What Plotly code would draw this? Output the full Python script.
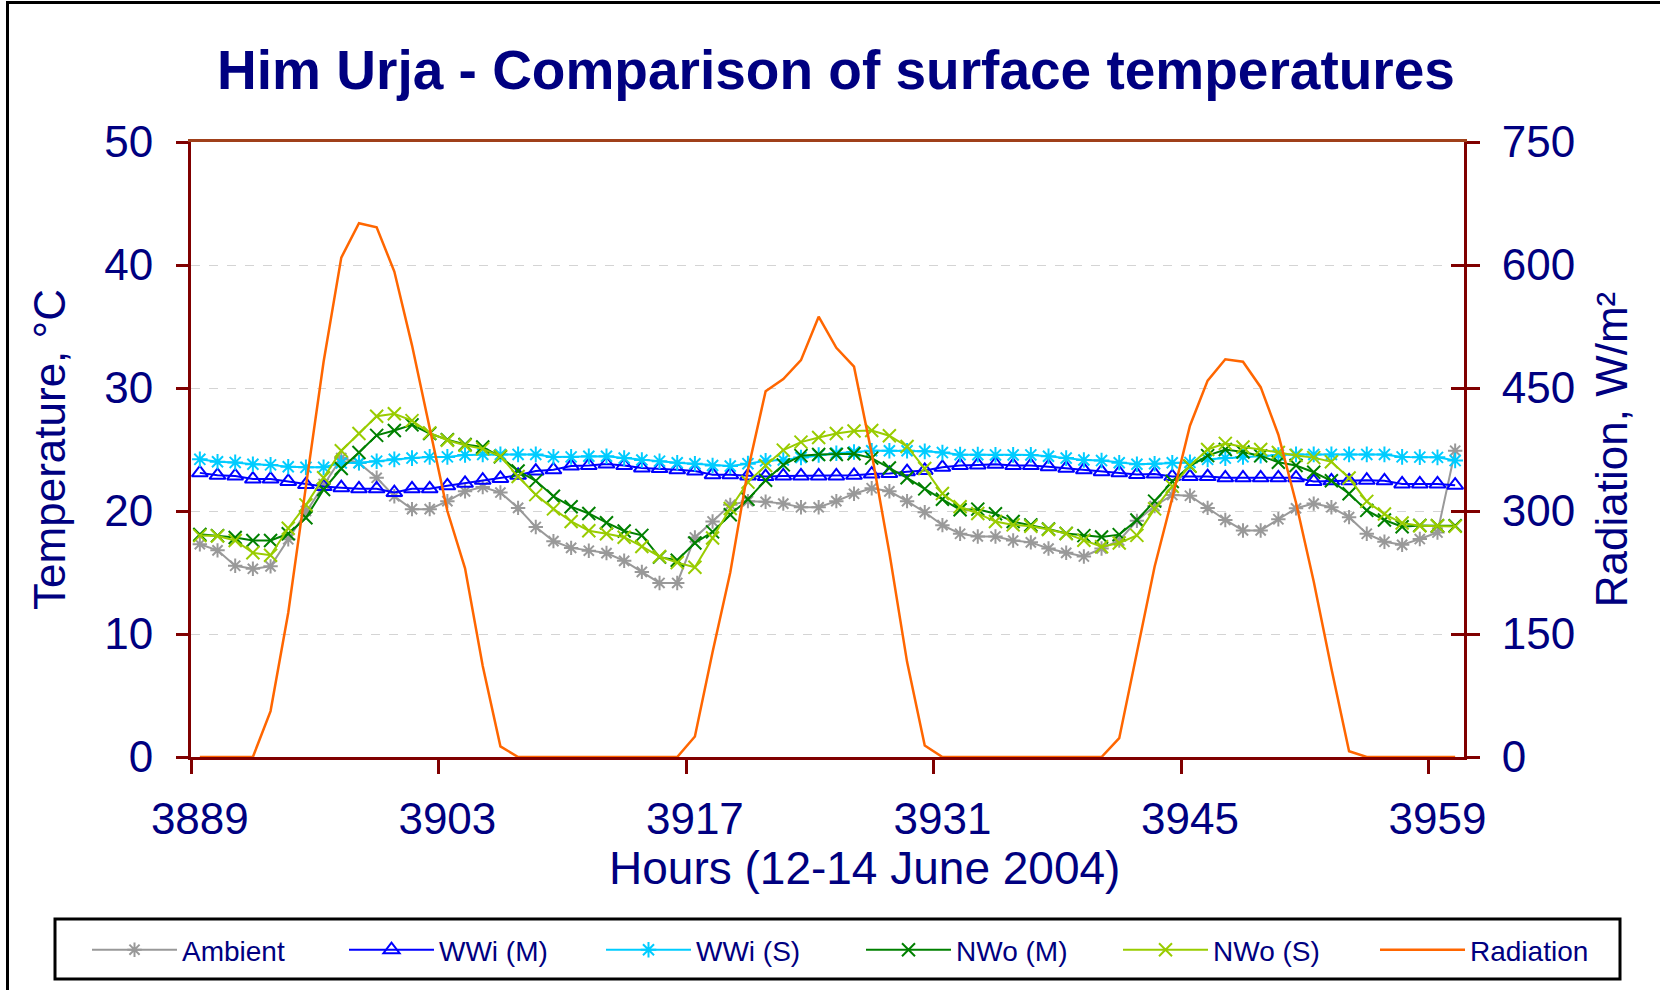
import plotly.graph_objects as go

hours = list(range(3889, 3961))

ambient = [17.3, 16.8, 15.55, 15.3, 15.5, 17.7, 20.0, 22.2, 24.3, 23.9,
           22.7, 21.2, 20.15, 20.15, 20.8, 21.6, 21.95, 21.5, 20.25, 18.7,
           17.55, 17.0, 16.77, 16.58, 15.95, 15.05, 14.15, 14.15, 17.85, 19.15,
           20.5, 20.8, 20.75, 20.6, 20.3, 20.3, 20.8, 21.4, 21.85, 21.6,
           20.8, 19.9, 18.85, 18.15, 17.93, 17.93, 17.6, 17.45, 16.95, 16.6,
           16.3, 16.95, 17.6, 19.2, 20.4, 21.3, 21.24, 20.25, 19.27, 18.42,
           18.42, 19.33, 20.22, 20.6, 20.3, 19.5, 18.15, 17.5, 17.25, 17.72,
           18.25, 24.9]

wwi_m = [23.1, 22.9, 22.85, 22.6, 22.6, 22.4, 22.15, 22.0, 21.9, 21.8,
         21.8, 21.5, 21.8, 21.8, 22.05, 22.25, 22.5, 22.65, 22.9, 23.25,
         23.35, 23.65, 23.7, 23.82, 23.7, 23.5, 23.45, 23.35, 23.25, 22.95,
         22.95, 22.85, 22.8, 22.85, 22.85, 22.85, 22.85, 22.9, 23.0, 23.05,
         23.2, 23.3, 23.55, 23.7, 23.75, 23.8, 23.7, 23.7, 23.6, 23.48,
         23.35, 23.2, 23.1, 22.96, 23.0, 22.8, 22.8, 22.8, 22.7, 22.7,
         22.7, 22.7, 22.7, 22.4, 22.45, 22.45, 22.5, 22.45, 22.2, 22.2,
         22.2, 22.1]

wwi_s = [24.2, 24.0, 23.95, 23.8, 23.75, 23.6, 23.55, 23.55, 23.9, 23.92,
         24.05, 24.2, 24.3, 24.4, 24.4, 24.55, 24.6, 24.6, 24.6, 24.6,
         24.4, 24.4, 24.45, 24.45, 24.3, 24.15, 24.05, 23.92, 23.84, 23.7,
         23.65, 23.85, 24.08, 24.15, 24.35, 24.55, 24.7, 24.8, 24.9, 24.9,
         24.9, 24.85, 24.75, 24.58, 24.58, 24.56, 24.56, 24.56, 24.45, 24.3,
         24.15, 24.1, 23.92, 23.8, 23.84, 23.92, 23.95, 24.2, 24.3, 24.4,
         24.5, 24.55, 24.6, 24.6, 24.6, 24.6, 24.6, 24.6, 24.4, 24.38,
         24.36, 24.1]

nwo_m = [18.1, 18.0, 17.85, 17.6, 17.6, 18.15, 19.45, 21.75, 23.45, 24.75,
         26.15, 26.55, 27.0, 26.3, 25.8, 25.4, 25.2, 24.4, 23.25, 22.45,
         21.2, 20.35, 19.8, 19.05, 18.38, 18.02, 16.25, 16.0, 17.4, 18.3,
         19.7, 20.95, 22.5, 23.75, 24.5, 24.6, 24.6, 24.65, 24.3, 23.5,
         22.7, 21.8, 20.95, 20.1, 20.15, 19.78, 19.14, 18.87, 18.54, 18.18,
         18.0, 17.88, 18.08, 19.27, 20.8, 22.4, 23.65, 24.5, 25.0, 24.8,
         24.48, 23.96, 23.7, 23.15, 22.46, 21.4, 20.05, 19.27, 18.72, 18.83,
         18.8, 18.8]

nwo_s = [18.0, 17.97, 17.6, 16.6, 16.4, 18.6, 20.5, 22.7, 24.9, 26.3,
         27.7, 27.9, 27.35, 26.35, 25.75, 25.35, 25.05, 24.45, 22.8, 21.33,
         20.17, 19.15, 18.4, 18.15, 17.87, 17.12, 16.3, 15.8, 15.42, 17.8,
         20.2, 22.35, 23.7, 24.95, 25.6, 25.97, 26.3, 26.5, 26.55, 26.12,
         25.25, 23.45, 21.42, 20.35, 19.8, 19.14, 18.87, 18.76, 18.5, 18.16,
         17.62, 17.1, 17.4, 18.02, 20.17, 22.0, 23.67, 25.0, 25.5, 25.2,
         25.0, 24.75, 24.52, 24.34, 24.0, 22.68, 20.78, 19.75, 19.02, 18.8,
         18.8, 18.75]

radiation = [0, 0, 0, 0, 56, 176, 330, 482, 609, 651,
             646, 592, 502, 402, 300, 230, 111, 13, 0, 0,
             0, 0, 0, 0, 0, 0, 0, 0, 25, 128,
             225, 350, 446, 461, 484, 537, 499, 476, 370, 249,
             116, 14, 0, 0, 0, 0, 0, 0, 0, 0,
             0, 0, 23, 128, 232, 316, 404, 459, 485, 482,
             451, 393, 310, 214, 108, 7, 0, 0, 0, 0,
             0, 0]

tick_labels = ["3889", "3903", "3917", "3931", "3945", "3959"]
label_pos = [int(t) for t in tick_labels]
tick_marks = [v - 0.5 for v in label_pos]

NAVY = "#000080"
AXIS = "#800000"
FONT = "Liberation Sans"

W, H = 1660, 990
L, R, T, B = 191, 196, 142, 233
pw = W - L - R
ph = H - T - B

fig = go.Figure()

series = [
    ("Ambient", ambient, "#999999", "asterisk-open", 12, "legend"),
    ("WWi (M)", wwi_m, "#0000FF", "triangle-up-open", 14, "legend"),
    ("WWi (S)", wwi_s, "#00CCFF", "asterisk-open", 13, "legend"),
    ("NWo (M)", nwo_m, "#008000", "x-thin-open", 13, "legend2"),
    ("NWo (S)", nwo_s, "#99CC00", "x-thin-open", 13, "legend2"),
]
for name, vals, col, sym, sz, lg in series:
    fig.add_trace(go.Scatter(
        x=hours, y=vals, name=name, mode="lines+markers",
        line=dict(color=col, width=2),
        marker=dict(symbol=sym, size=sz, color=col, line=dict(color=col, width=2)),
        xaxis="x", yaxis="y", legend=lg))

fig.add_trace(go.Scatter(
    x=hours, y=radiation, name="Radiation", mode="lines",
    line=dict(color="#FF6600", width=2.5), xaxis="x2", yaxis="y2",
    legend="legend2"))

# helper trace for the decorative top border / crossing right ticks
fig.add_trace(go.Scatter(x=[None], y=[None], xaxis="x3", yaxis="y3",
                         showlegend=False, hoverinfo="skip"))

xr = [hours[0] - 0.5, hours[-1] + 0.5]

ENTRY = 258
LEG_X = 87
legend_common = dict(orientation="h", xref="container", yref="container",
                     xanchor="left", y=1 - 950 / H, yanchor="middle",
                     entrywidth=ENTRY - 85 - 16, entrywidthmode="pixels",
                     font=dict(family=FONT, size=28, color=NAVY),
                     borderwidth=0, bgcolor="rgba(0,0,0,0)", itemwidth=85)

fig.update_layout(
    width=W, height=H, autosize=False,
    margin=dict(l=L, r=R, t=T, b=B, autoexpand=False),
    paper_bgcolor="white", plot_bgcolor="white",
    font=dict(family=FONT, color=NAVY),
    title=dict(text="Him Urja - Comparison of surface temperatures",
               font=dict(family=FONT, size=55, color=NAVY, weight="bold"),
               x=836 / W, xref="container", xanchor="center",
               y=1 - 70 / H, yref="container", yanchor="middle",
               automargin=False),
    xaxis=dict(range=xr, tickvals=tick_marks, showticklabels=False,
               ticks="outside", ticklen=14, tickwidth=3, tickcolor=AXIS,
               showline=True, linecolor=AXIS, linewidth=3,
               showgrid=False, zeroline=False, automargin=False),
    xaxis2=dict(range=xr, overlaying="x", side="bottom", anchor="y2",
                tickvals=label_pos, ticktext=tick_labels, ticks="",
                showline=False, showgrid=False, zeroline=False,
                tickfont=dict(family=FONT, size=44, color=NAVY),
                ticklabelstandoff=32, automargin=False),
    xaxis3=dict(range=xr, overlaying="x", side="top", anchor="y3",
                showticklabels=False, ticks="", showline=True,
                linecolor="#A0401A", linewidth=3, showgrid=False, zeroline=False,
                automargin=False),
    yaxis=dict(range=[0, 50], tickvals=[0, 10, 20, 30, 40, 50],
               ticks="outside", ticklen=12, tickwidth=3, tickcolor=AXIS,
               showline=True, linecolor=AXIS, linewidth=3,
               showgrid=True, gridcolor="#D4D4D4", gridwidth=1, griddash="dash",
               zeroline=False, automargin=False,
               tickfont=dict(family=FONT, size=44, color=NAVY),
               ticklabelstandoff=14,
               title=dict(text="Temperature, °C",
                          font=dict(family=FONT, size=44, color=NAVY),
                          standoff=25)),
    yaxis2=dict(range=[0, 750], tickvals=[0, 150, 300, 450, 600, 750],
                overlaying="y", side="right", anchor="x2",
                ticks="outside", ticklen=13, tickwidth=3, tickcolor=AXIS,
                showline=True, linecolor=AXIS, linewidth=3,
                showgrid=False, zeroline=False, automargin=False,
                tickfont=dict(family=FONT, size=44, color=NAVY),
                ticklabelstandoff=13,
                title=dict(text="Radiation, W/m²",
                           font=dict(family=FONT, size=44, color=NAVY),
                           standoff=22)),
    yaxis3=dict(range=[0, 750], tickvals=[0, 150, 300, 450, 600, 750],
                overlaying="y", side="right", anchor="x3",
                ticks="inside", ticklen=13, tickwidth=3, tickcolor=AXIS,
                showticklabels=False, showline=False, showgrid=False, zeroline=False,
                automargin=False),
    legend=dict(x=LEG_X / W, **legend_common),
    legend2=dict(x=(LEG_X + 3 * ENTRY) / W, **legend_common),
    annotations=[dict(text="Hours (12-14 June 2004)", showarrow=False,
                      xref="paper", yref="paper",
                      x=(864 - L) / pw, y=(H - B - 868) / ph,
                      xanchor="center", yanchor="middle",
                      font=dict(family=FONT, size=46, color=NAVY))],
    shapes=[
        dict(type="rect", xref="paper", yref="paper",
             x0=(7.5 - L) / pw, x1=1.3, y0=-0.6, y1=(H - B - 2.5) / ph,
             line=dict(color="black", width=3), fillcolor="rgba(0,0,0,0)",
             layer="below"),
        dict(type="rect", xref="paper", yref="paper",
             x0=(55 - L) / pw, x1=(1620 - L) / pw,
             y0=(H - B - 979) / ph, y1=(H - B - 919) / ph,
             line=dict(color="black", width=3), fillcolor="white",
             layer="below"),
    ],
)

fig.write_html("out.html", config={"displayModeBar": False},
               post_script="document.body.style.margin='0';")
